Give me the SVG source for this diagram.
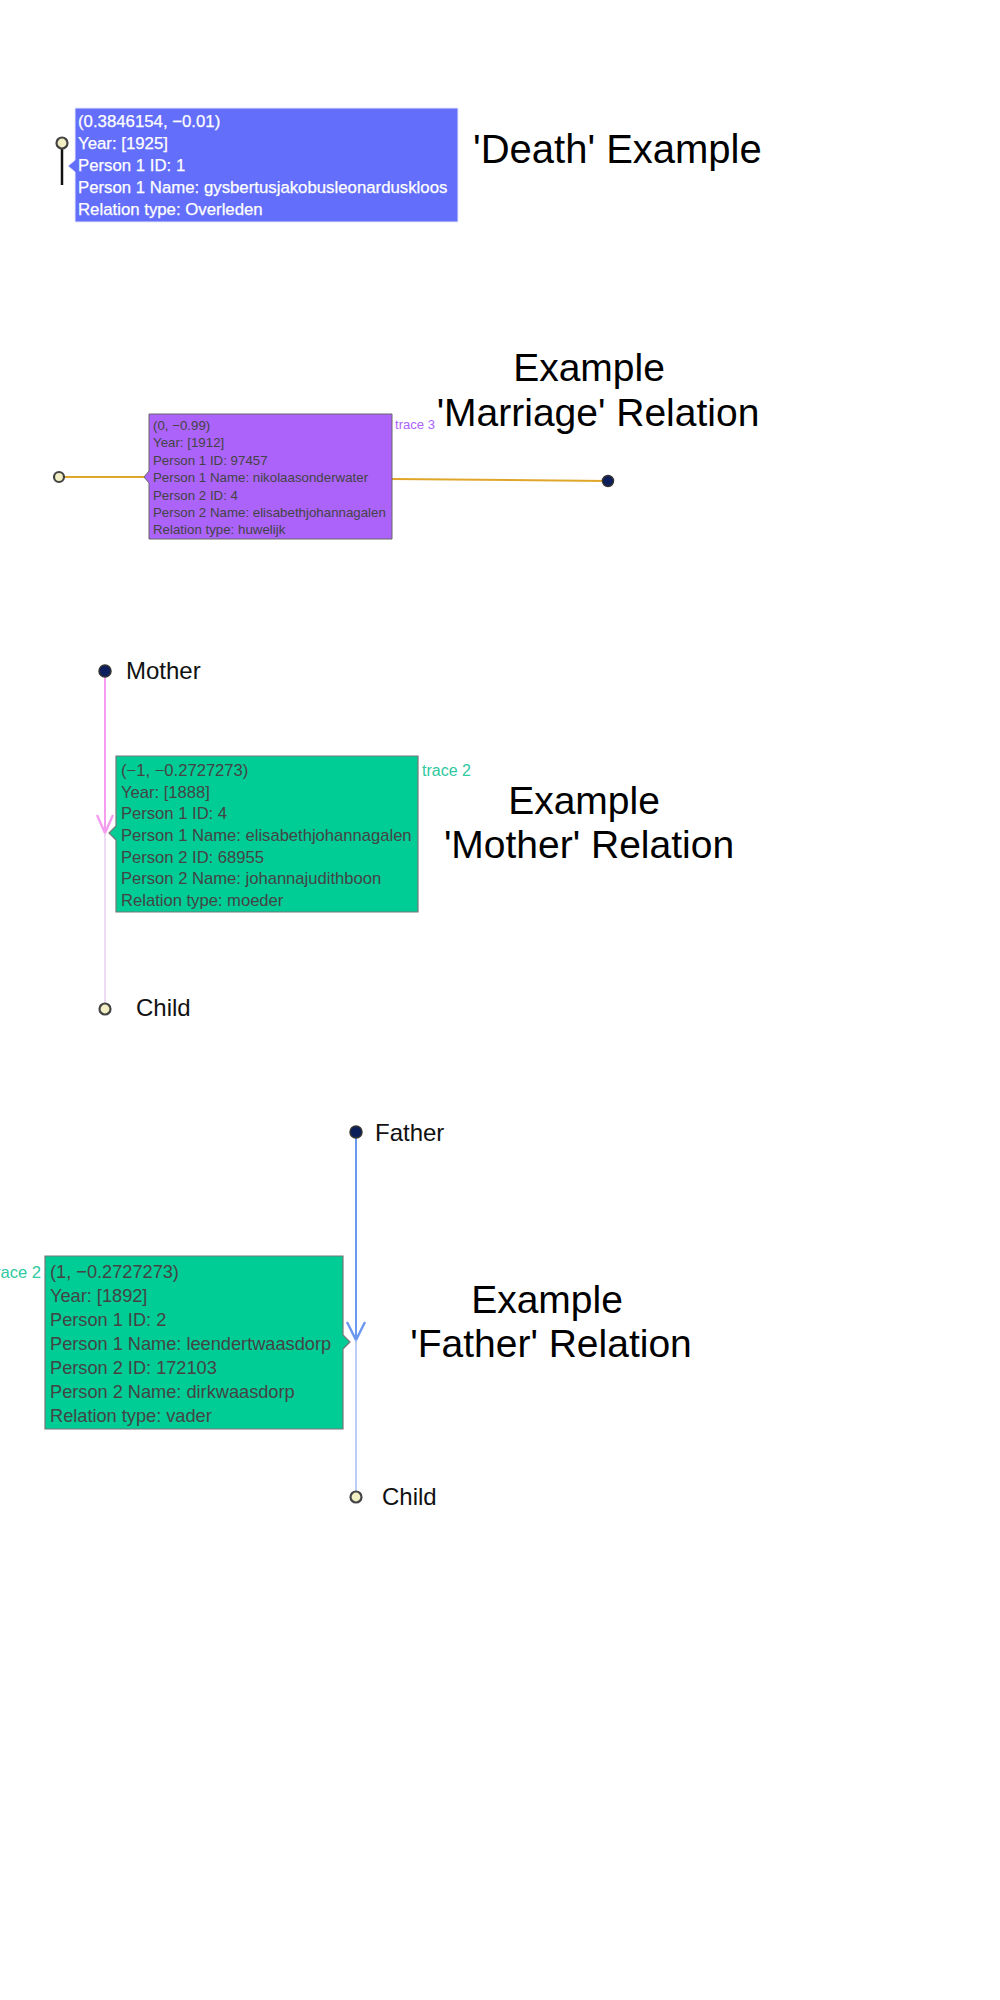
<svg xmlns="http://www.w3.org/2000/svg" width="1000" height="2000" viewBox="0 0 1000 2000">
<style>
text{font-family:"Liberation Sans",Arial,sans-serif}
.title{font-size:39px;fill:#000}
.lbl{font-size:24px;fill:#111}
.open{fill:#f3efc4;stroke:#444;stroke-width:2.2}
.dark{fill:#0b1d5a;stroke:#333;stroke-width:1.5}
.hov{font-size:16.6px;fill:#444}
.trace{fill:#2ec9a0}
</style>
<rect width="1000" height="2000" fill="#fff"/>
<g id="connectors" fill="none">
  <line x1="62" y1="143" x2="62" y2="185" stroke="#111" stroke-width="2.5"/>
  <line x1="59" y1="477" x2="144" y2="477" stroke="#e0a62a" stroke-width="2"/>
  <line x1="392" y1="479" x2="608" y2="481" stroke="#e0a62a" stroke-width="2"/>
  <line x1="105" y1="671" x2="105" y2="833" stroke="#f49cf0" stroke-width="2"/>
  <polyline points="97,815 105,833 113,815" stroke="#f49cf0" stroke-width="2.4"/>
  <line x1="105" y1="833" x2="105" y2="1009" stroke="#ecd2f2" stroke-width="1.6"/>
  <line x1="356" y1="1132" x2="356" y2="1340" stroke="#6a98ee" stroke-width="2"/>
  <polyline points="347,1322 356,1340 365,1322" stroke="#6a98ee" stroke-width="2.4"/>
  <line x1="356" y1="1340" x2="356" y2="1497" stroke="#a9c2f3" stroke-width="1.6"/>
</g>
<g id="death">
  <circle class="open" cx="62" cy="143" r="5.5"/>
  <path d="M75,108 H458 V222 H75 V172 L68,166 L75,160 Z" fill="#636efa" stroke="#e6e8ff" stroke-width="1"/>
  <g font-size="16.8px" fill="#fff" stroke="#fff" stroke-width="0.25">
    <text x="78" y="127">(0.3846154, −0.01)</text>
    <text x="78" y="149">Year: [1925]</text>
    <text x="78" y="171">Person 1 ID: 1</text>
    <text x="78" y="193">Person 1 Name: gysbertusjakobusleonarduskloos</text>
    <text x="78" y="215">Relation type: Overleden</text>
  </g>
  <text class="title" x="473" y="163" style="font-size:40px">'Death' Example</text>
</g>
<g id="marriage">
  <circle class="open" cx="59" cy="477" r="5"/>
  <circle class="dark" cx="608" cy="481" r="5.5"/>
  <path d="M149,414 H392 V539 H149 V483 L144,477 L149,471 Z" fill="#ab63fa" stroke="#666" stroke-width="1"/>
  <g font-size="13.3px" fill="#444">
    <text x="153" y="430">(0, −0.99)</text>
    <text x="153" y="447">Year: [1912]</text>
    <text x="153" y="465">Person 1 ID: 97457</text>
    <text x="153" y="482">Person 1 Name: nikolaasonderwater</text>
    <text x="153" y="500">Person 2 ID: 4</text>
    <text x="153" y="517">Person 2 Name: elisabethjohannagalen</text>
    <text x="153" y="534">Relation type: huwelijk</text>
  </g>
  <text x="395" y="429" font-size="13.1px" fill="#ab63fa">trace 3</text>
  <text class="title" x="589" y="381" text-anchor="middle">Example</text>
  <text class="title" x="598" y="426" text-anchor="middle">'Marriage' Relation</text>
</g>
<g id="mother">
  <circle class="dark" cx="105" cy="671" r="6"/>
  <text class="lbl" x="126" y="679">Mother</text>
  <circle class="open" cx="105" cy="1009" r="5.5"/>
  <text class="lbl" x="136" y="1016">Child</text>
  <path d="M116,756 H418 V912 H116 V840 L109,833 L116,826 Z" fill="#00cc96" stroke="#777" stroke-width="1.2"/>
  <g class="hov">
    <text x="121" y="776">(−1, −0.2727273)</text>
    <text x="121" y="798">Year: [1888]</text>
    <text x="121" y="819">Person 1 ID: 4</text>
    <text x="121" y="841">Person 1 Name: elisabethjohannagalen</text>
    <text x="121" y="863">Person 2 ID: 68955</text>
    <text x="121" y="884">Person 2 Name: johannajudithboon</text>
    <text x="121" y="906">Relation type: moeder</text>
  </g>
  <text class="trace" x="422" y="776" font-size="16px">trace 2</text>
  <text class="title" x="584" y="814" text-anchor="middle">Example</text>
  <text class="title" x="589" y="858" text-anchor="middle">'Mother' Relation</text>
</g>
<g id="father">
  <circle class="dark" cx="356" cy="1132" r="6"/>
  <text class="lbl" x="375" y="1141">Father</text>
  <circle class="open" cx="356" cy="1497" r="5.5"/>
  <text class="lbl" x="382" y="1505">Child</text>
  <path d="M45,1256 H343 V1335 L350,1342 L343,1349 V1429 H45 Z" fill="#00cc96" stroke="#777" stroke-width="1.2"/>
  <g class="hov" style="font-size:18.2px">
    <text x="50" y="1278">(1, −0.2727273)</text>
    <text x="50" y="1302">Year: [1892]</text>
    <text x="50" y="1326">Person 1 ID: 2</text>
    <text x="50" y="1350">Person 1 Name: leendertwaasdorp</text>
    <text x="50" y="1374">Person 2 ID: 172103</text>
    <text x="50" y="1398">Person 2 Name: dirkwaasdorp</text>
    <text x="50" y="1422">Relation type: vader</text>
  </g>
  <text class="trace" x="41" y="1278" font-size="16.6px" text-anchor="end">trace 2</text>
  <text class="title" x="547" y="1313" text-anchor="middle">Example</text>
  <text class="title" x="551" y="1357" text-anchor="middle">'Father' Relation</text>
</g>
</svg>
